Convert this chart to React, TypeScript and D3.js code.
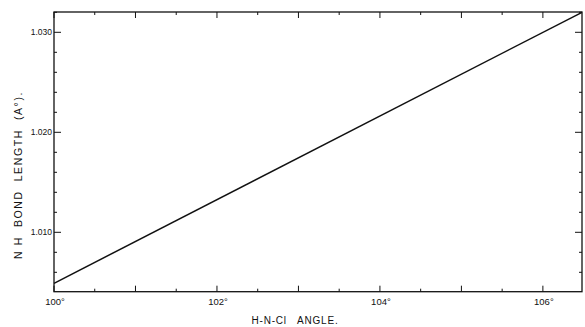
import React from "react";
import * as d3 from "d3";

const angleDomain = [100, 106.48];
const lengthDomain = [1.00406, 1.03203];
const lineAngles = [100, 106.48];
const lineLengths = [1.0049, 1.032];
const xMajorTicks = [100, 102, 104, 106];
const xTickLabels = ["100°", "102°", "104°", "106°"];
const yMajorTicks = [1.01, 1.02, 1.03];
const yTickLabels = ["1.010", "1.020", "1.030"];
const xLabel = "H-N-Cl   ANGLE.";
const yLabel = "N H  BOND  LENGTH  (A°).";

export default function App() {
  const W = 585, H = 327;
  const left = 54, right = 582, top = 12, bottom = 291.7;
  const x = d3.scaleLinear().domain(angleDomain).range([left, right]);
  const y = d3.scaleLinear().domain(lengthDomain).range([bottom, top]);

  const xMinor = d3.range(100, 106.49, 0.5);
  const yMinor = d3.range(1.006, 1.0321, 0.002);

  const pts = lineAngles.map((a, i) => [a, lineLengths[i]] as [number, number]);
  const lineGen = d3.line<[number, number]>().x(d => x(d[0])).y(d => y(d[1]));

  const font = "'Liberation Sans', Arial, sans-serif";
  return (
    <svg width={W} height={H} style={{ position: "absolute", left: 0, top: 0, background: "#fff" }}>
      <rect x={left} y={top} width={right - left} height={bottom - top} fill="none" stroke="#111" strokeWidth={1.3} />
      {xMinor.map((v, i) => {
        const isInt = Math.abs(v - Math.round(v)) < 1e-6;
        const len = isInt ? 6 : 3;
        return (
          <g key={"xt" + i}>
            <line x1={x(v)} x2={x(v)} y1={bottom} y2={bottom - len} stroke="#111" strokeWidth={1} />
            <line x1={x(v)} x2={x(v)} y1={top} y2={top + len} stroke="#111" strokeWidth={1} />
          </g>
        );
      })}
      {yMinor.map((v, i) => {
        const isMajor = yMajorTicks.some(t => Math.abs(t - v) < 1e-6);
        const len = isMajor ? 7 : 3;
        return (
          <g key={"yt" + i}>
            <line x1={left} x2={left + len} y1={y(v)} y2={y(v)} stroke="#111" strokeWidth={1} />
            <line x1={right} x2={right - len} y1={y(v)} y2={y(v)} stroke="#111" strokeWidth={1} />
          </g>
        );
      })}
      {xMajorTicks.map((v, i) => (
        <text key={"xl" + i} x={x(v) + 1} y={305} fontSize={9.5} fontFamily={font} textAnchor="middle" fill="#111">
          {xTickLabels[i]}
        </text>
      ))}
      {yMajorTicks.map((v, i) => (
        <text key={"yl" + i} x={left - 2} y={y(v) + 2.5} fontSize={8.5} fontFamily={font} textAnchor="end" fill="#111">
          {yTickLabels[i]}
        </text>
      ))}
      <path d={lineGen(pts) || ""} fill="none" stroke="#111" strokeWidth={1.5} />
      <text x={295} y={324} fontSize={10} fontFamily={font} textAnchor="middle" fill="#111" letterSpacing={0.8} style={{ whiteSpace: "pre" }}>
        {xLabel}
      </text>
      <text
        transform={`translate(22,175) rotate(-90)`}
        fontSize={10.5}
        fontFamily={font}
        textAnchor="middle"
        fill="#111"
        letterSpacing={1.6}
        style={{ whiteSpace: "pre" }}
      >
        {yLabel}
      </text>
    </svg>
  );
}
